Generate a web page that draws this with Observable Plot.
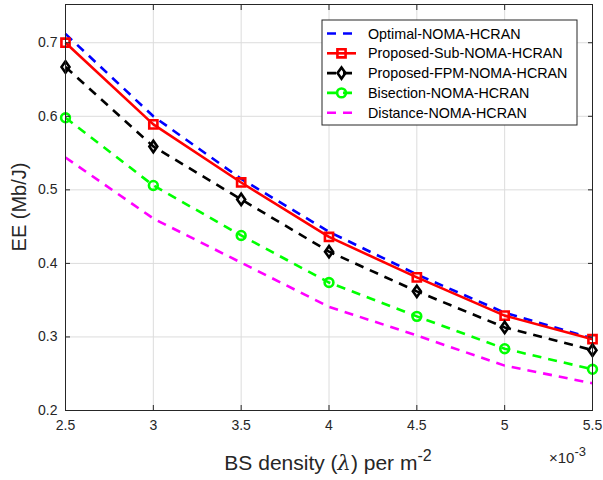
<!DOCTYPE html>
<html><head><meta charset="utf-8">
<script src="https://cdn.jsdelivr.net/npm/d3@7"></script>
<script src="https://cdn.jsdelivr.net/npm/@observablehq/plot@0.6"></script>
<style>
body{margin:0;background:#fff;}
#chart{position:relative;width:603px;height:480px;}
svg{font-family:"Liberation Sans",Arial,sans-serif;}
</style></head>
<body><div id="chart"></div>
<script>
const density = [2.5, 3, 3.5, 4, 4.5, 5, 5.5];
const optimal   = [0.712, 0.600, 0.515, 0.443, 0.385, 0.333, 0.298];
const proposedSub = [0.700, 0.589, 0.510, 0.436, 0.381, 0.329, 0.297];
const proposedFPM = [0.667, 0.559, 0.487, 0.416, 0.362, 0.313, 0.282];
const bisection = [0.598, 0.506, 0.438, 0.374, 0.328, 0.284, 0.256];
const distance  = [0.544, 0.461, 0.401, 0.341, 0.302, 0.261, 0.237];
const xTicks = [2.5, 3, 3.5, 4, 4.5, 5, 5.5];
const yTicks = [0.2, 0.3, 0.4, 0.5, 0.6, 0.7];
const seriesNames = ["Optimal-NOMA-HCRAN","Proposed-Sub-NOMA-HCRAN","Proposed-FPM-NOMA-HCRAN","Bisection-NOMA-HCRAN","Distance-NOMA-HCRAN"];

// MATLAB-like diamond: width/height ratio ~0.7
const matDiamond = {
  draw(context, size) {
    const h = Math.sqrt(size / 1.4), w = 0.7 * h;
    context.moveTo(0, -h); context.lineTo(w, 0); context.lineTo(0, h); context.lineTo(-w, 0); context.closePath();
  }
};
const styles = [
  {color:"#0000ff", dash:"9,7", symbol:null},
  {color:"#ff0000", dash:null, symbol:"square"},
  {color:"#000000", dash:"9,7", symbol:"diamond"},
  {color:"#00ff00", dash:"9,7", symbol:"circle"},
  {color:"#ff00ff", dash:"9,7", symbol:null}
];
const symR = {square:4.6, diamond:3.8, circle:4.4};
const symObj = {square:d3.symbolSquare, diamond:matDiamond, circle:d3.symbolCircle};
const allSeries = [optimal, proposedSub, proposedFPM, bisection, distance];
const rows = allSeries.map((vals,i)=>density.map((d,j)=>({x:d, y:vals[j], s:seriesNames[i]})));

const marks = [
  Plot.gridX(xTicks, {stroke:"#dcdcdc", strokeOpacity:1, strokeWidth:1}),
  Plot.gridY(yTicks, {stroke:"#dcdcdc", strokeOpacity:1, strokeWidth:1}),
];
rows.forEach((r,i)=>{
  const st = styles[i];
  marks.push(Plot.line(r, {x:"x", y:"y", stroke:st.color, strokeWidth:2.6, strokeDasharray:st.dash||undefined, strokeLinecap:"butt"}));
});
rows.forEach((r,i)=>{
  const st = styles[i];
  if (st.symbol) marks.push(Plot.dot(r, {x:"x", y:"y", symbol:symObj[st.symbol], stroke:st.color, fill:"none", strokeWidth:2.6, r:symR[st.symbol]}));
});
marks.push(
  Plot.axisX(xTicks, {anchor:"bottom", tickSize:0, tickPadding:10, fontSize:14, color:"#262626", tickFormat:d=>String(d), label:null}),
  Plot.axisY(yTicks, {anchor:"left", tickSize:0, tickPadding:8, fontSize:14, color:"#262626", tickFormat:d=>String(d), label:null}),
  Plot.axisX(xTicks, {anchor:"bottom", tickSize:-5, text:null, label:null, stroke:"#262626"}),
  Plot.axisX(xTicks, {anchor:"top", tickSize:-5, text:null, label:null, stroke:"#262626"}),
  Plot.axisY(yTicks, {anchor:"left", tickSize:-5, text:null, label:null, stroke:"#262626"}),
  Plot.axisY(yTicks, {anchor:"right", tickSize:-5, text:null, label:null, stroke:"#262626"}),
  Plot.frame({stroke:"#262626", strokeWidth:1})
);

const chart = Plot.plot({
  width:603, height:480,
  marginLeft:65, marginRight:11, marginTop:4, marginBottom:70,
  x:{domain:[2.5,5.5]},
  y:{domain:[0.2,0.752]},
  style:{fontFamily:"'Liberation Sans', Arial, sans-serif", background:"#fff"},
  marks
});
document.getElementById("chart").appendChild(chart);

const svg = d3.select(chart);
// y label
svg.append("text").attr("transform","translate(26,207) rotate(-90)")
  .attr("text-anchor","middle").attr("font-size",20).attr("fill","#262626").text("EE (Mb/J)");
// x label
const xl = svg.append("text").attr("x",328).attr("y",470).attr("text-anchor","middle")
  .attr("font-size",21).attr("fill","#262626");
xl.append("tspan").text("BS density (");
xl.append("tspan").attr("font-family","'DejaVu Serif', serif").attr("font-style","italic").text("λ");
xl.append("tspan").text(") per m");
xl.append("tspan").attr("dy",-9).attr("font-size",16).text("-2");
// exponent
const ex = svg.append("text").attr("x",549).attr("y",463).attr("text-anchor","start").attr("font-size",15).attr("fill","#262626");
ex.append("tspan").text("×10");
ex.append("tspan").attr("dy",-7).attr("font-size",13).text("-3");

// legend
const lg = svg.append("g");
lg.append("rect").attr("x",322).attr("y",20).attr("width",255).attr("height",105)
  .attr("fill","#fff").attr("stroke","#262626").attr("stroke-width",1);
seriesNames.forEach((name,i)=>{
  const st = styles[i];
  const y = 33.5 + i*19.8;
  lg.append("line").attr("x1",327).attr("x2",356).attr("y1",y).attr("y2",y)
    .attr("stroke",st.color).attr("stroke-width",2.6).attr("stroke-dasharray",st.dash?"9,7":null);
  if (st.symbol){
    const rr = symR[st.symbol];
    const sym = d3.symbol().type(symObj[st.symbol]).size(Math.PI*rr*rr);
    lg.append("path").attr("d",sym()).attr("transform",`translate(341.5,${y})`)
      .attr("fill","none").attr("stroke",st.color).attr("stroke-width",2.6);
  }
  lg.append("text").attr("x",368).attr("y",y).attr("dy","0.35em").attr("text-anchor","start").attr("font-size",14.3)
    .attr("fill","#000").text(name);
});
</script></body></html>
